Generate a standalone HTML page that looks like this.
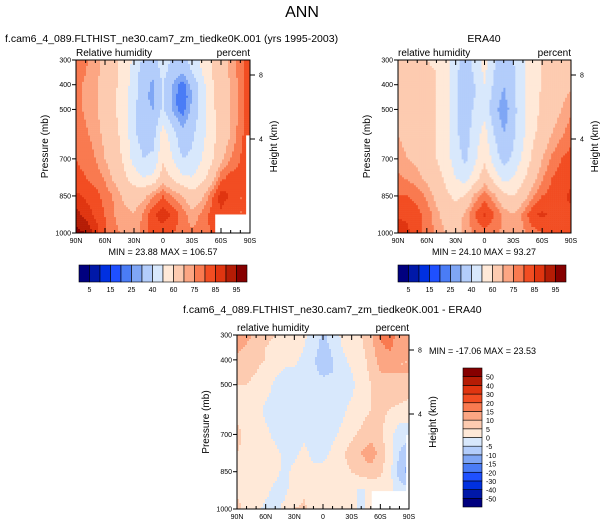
<!DOCTYPE html>
<html><head><meta charset="utf-8"><style>
body{margin:0;background:#fff;}
svg{display:block;font-family:"Liberation Sans",sans-serif;}
</style></head><body>
<svg id="s" width="604" height="529" viewBox="0 0 604 529">
<text x="302" y="17" font-size="16" text-anchor="middle">ANN</text>
</svg>
<script>
const lats=[90,80,70,60,50,40,30,20,10,0,-10,-20,-30,-40,-50,-60,-70,-80,-90];
const levels=[300,350,400,450,500,600,700,775,850,925,1000];
const modelRH=[
[78,76,72,68,62,56,48,38,36,46,38,36,44,52,60,66,72,78,84],
[78,75,72,67,62,55,46,34,32,44,34,30,40,50,60,66,72,78,84],
[77,74,72,66,62,55,45,33,28,40,30,22,32,45,58,65,70,76,85],
[77,74,71,66,61,54,44,32,28,40,28,20,30,45,58,65,70,77,85],
[77,74,71,66,61,54,42,32,30,42,28,22,32,45,57,65,70,77,85],
[78,76,73,68,63,56,42,35,36,55,45,32,38,46,56,64,70,78,85],
[80,78,75,70,65,58,46,40,42,58,50,40,42,50,58,68,75,80,85],
[82,80,78,74,68,62,55,50,52,65,58,52,50,56,65,78,82,82,82],
[86,84,82,78,74,68,66,68,75,80,75,70,64,68,78,88,84,80,80],
[92,88,84,80,75,72,70,76,84,88,84,78,72,76,82,84,80,80,80],
[97,95,88,80,76,74,72,78,82,82,80,78,76,78,80,80,80,80,80]];
const eraRH=[
[66,64,62,60,58,54,44,36,42,55,42,34,40,48,56,60,62,64,66],
[68,66,64,62,60,54,42,34,42,52,40,32,38,48,56,60,62,64,66],
[70,68,66,62,60,54,42,34,40,50,38,30,38,48,56,60,64,66,68],
[70,68,66,62,60,54,42,34,40,48,36,28,38,48,56,62,66,68,72],
[70,68,66,62,60,54,42,34,42,46,34,24,36,48,56,62,66,70,74],
[70,68,66,62,60,54,42,35,45,54,40,30,38,48,58,64,70,74,78],
[72,70,68,64,60,55,44,38,48,58,46,36,42,52,62,70,76,80,82],
[76,74,72,68,64,58,50,45,55,66,56,46,50,58,66,74,80,82,84],
[80,80,78,74,68,62,58,60,72,78,72,62,60,66,74,80,82,84,86],
[84,84,82,78,72,66,64,72,80,86,80,74,70,76,84,86,84,84,84],
[88,86,82,78,74,70,68,72,76,78,76,74,72,74,78,80,80,82,82]];
const diffRH=[
[15,12,8,6,5,4,3,1,-2,-6,-3,1,2,5,8,16,18,12,10],
[12,9,7,5,4,3,2,0,-3,-7,-4,0,2,4,8,14,16,12,10],
[8,7,6,5,3,2,1,-1,-4,-9,-5,-1,1,3,7,12,12,10,10],
[6,6,5,3,1,-1,-1,-2,-4,-6,-5,-2,0,2,6,10,10,10,10],
[5,5,4,2,-1,-2,-2,-2,-3,-3,-3,-2,-1,2,5,8,8,8,8],
[4,3,2,-1,-2,-2,-2,-2,-2,-2,-2,-1,1,3,5,6,5,4,3],
[6,4,3,1,-1,-2,-2,-1,-2,-2,-1,1,4,6,8,6,2,-3,-3],
[5,4,3,2,1,-1,-1,1,-1,-2,1,4,7,10,13,8,2,-5,-8],
[4,3,2,2,1,-1,1,2,1,2,4,4,5,7,8,6,2,-8,-12],
[4,3,2,1,-1,-1,2,4,2,1,2,3,1,-1,1,2,1,-2,-3],
[7,3,1,-1,-1,1,5,6,3,1,2,3,1,-1,1,1,1,1,0]];
const rhBounds=[5,10,15,20,25,30,40,50,60,70,75,80,85,90,95];
const rhLabels=[5,15,25,40,60,75,85,95];
const diffBounds=[-50,-40,-30,-20,-15,-10,-5,0,5,10,15,20,30,40,50];
const pTicks=[300,400,500,700,850,1000];
const latTicks=[90,60,30,0,-30,-60,-90];
const latTickLabels=["90N","60N","30N","0","30S","60S","90S"];
const palette=['#00007F','#0018A8','#0030E0','#1F50FF','#4A7CF6','#7FA6F5','#B3CDFB','#D8E8FC','#FFE9D8','#FDCBB0','#FCA683','#F97A50','#F24D22','#E03510','#B51C05','#860000'];

const S=document.getElementById('s');
const NS='http://www.w3.org/2000/svg';
function mk(tag,attrs,parent){const e=document.createElementNS(NS,tag);for(const k in attrs)e.setAttribute(k,attrs[k]);(parent||S).appendChild(e);return e;}
function txt(x,y,s,size,anchor,name,extra){const t=mk('text',Object.assign({x:x,y:y,'font-size':size,'text-anchor':anchor||'start'},extra||{}));t.textContent=s;return t;}
function colorOf(v,b){let i=0;while(i<b.length&&v>=b[i])i++;return palette[i];}
function sample(data,lat,p){
  let j=0;while(j<lats.length-2&&lat<lats[j+1])j++;
  let i=0;while(i<levels.length-2&&p>levels[i+1])i++;
  const tx=(lats[j]-lat)/(lats[j]-lats[j+1]);const ty=(p-levels[i])/(levels[i+1]-levels[i]);
  const a=data[i][j],b=data[i][j+1],c=data[i+1][j],d=data[i+1][j+1];
  return a*(1-tx)*(1-ty)+b*tx*(1-ty)+c*(1-tx)*ty+d*tx*ty;}

function panel(o){
  const X=lat=>o.x+(90-lat)/180*o.w;
  const Y=p=>o.y+(p-300)/700*o.h;
  const g=mk('g',{});
  const cs=2,n=Math.round(o.w/cs),m=Math.round(o.h/cs);
  const cw=o.w/n,ch=o.h/m;
  for(let r=0;r<m;r++){for(let c=0;c<n;c++){
    const lat=90-(c+0.5)/n*180,p=300+(r+0.5)/m*700;
    const v=sample(o.data,lat,p);
    const rc=mk('rect',{x:(o.x+c*cw).toFixed(2),y:(o.y+r*ch).toFixed(2),width:(cw+0.3).toFixed(2),height:(ch+0.3).toFixed(2),fill:colorOf(v,o.bounds)},g);
    
    
  }}
  (o.missing||[]).forEach(mm=>{const r=mk('rect',{x:X(mm[0]),y:Y(mm[2]),width:X(mm[1])-X(mm[0]),height:Y(1000)-Y(mm[2]),fill:'#fff'});});
  const fr=mk('rect',{x:o.x,y:o.y,width:o.w,height:o.h,fill:'none',stroke:'#000','stroke-width':1});
  for(let l=90;l>=-90;l-=10){const major=l%30===0;const L=major?5:3;
    mk('line',{x1:X(l),x2:X(l),y1:o.y+o.h,y2:o.y+o.h-L,stroke:'#000','stroke-width':1});
    mk('line',{x1:X(l),x2:X(l),y1:o.y,y2:o.y+L,stroke:'#000','stroke-width':1});}
  latTicks.forEach((l,k)=>txt(X(l),o.y+o.h+10,latTickLabels[k],7,'middle','x-tick-label'));
  pTicks.forEach(p=>{mk('line',{x1:o.x,x2:o.x-4,y1:Y(p),y2:Y(p),stroke:'#000'});txt(o.x-5,Y(p)+2.5,p,7,'end','y-tick-label');});
  [[8,15],[4,79]].forEach(h=>{mk('line',{x1:o.x+o.w,x2:o.x+o.w+5,y1:o.y+h[1],y2:o.y+h[1],stroke:'#000'});txt(o.x+o.w+9,o.y+h[1]+2.5,h[0],7,'start','height-tick-label');});
  txt(o.x-28,o.y+o.h/2,'Pressure (mb)',10,'middle','y-axis-title',{transform:`rotate(-90 ${o.x-28} ${o.y+o.h/2})`});
  txt(o.x+o.w+27,o.y+o.h/2,'Height (km)',10,'middle','right-axis-title',{transform:`rotate(-90 ${o.x+o.w+27} ${o.y+o.h/2})`});
  txt(o.x,o.y-4,o.left,10,'start','variable-label');
  txt(o.x+o.w,o.y-4,'percent',10,'end','units-label');
}
function hbar(x,y,w,h,labels,bounds,name){
  const g=mk('g',{});
  const bw=w/16;
  palette.forEach((c,i)=>{const r=mk('rect',{x:x+i*bw,y:y,width:bw,height:h,fill:c,stroke:'#000','stroke-width':0.6},g);});
  labels.forEach(l=>{const i=bounds.indexOf(l);txt(x+(i+1)*bw,y+h+10,l,7,'middle','colorbar-label');});
}
function vbar(x,y,w,h,bounds,name){
  const g=mk('g',{});
  const bh=h/16;
  palette.forEach((c,i)=>{const r=mk('rect',{x:x,y:y+(15-i)*bh,width:w,height:bh,fill:c,stroke:'#000','stroke-width':0.6},g);});
  bounds.forEach((b,i)=>txt(x+w+4,y+(15-i)*bh+3,b,7,'start','colorbar-label'));
}
txt(5,42,'f.cam6_4_089.FLTHIST_ne30.cam7_zm_tiedke0K.001 (yrs 1995-2003)',10.5,'start','model-panel-title');
txt(484,42,'ERA40',10.5,'middle','era-panel-title');
txt(183,313,'f.cam6_4_089.FLTHIST_ne30.cam7_zm_tiedke0K.001 - ERA40',10.5,'start','diff-panel-title');
panel({x:76,y:60,w:174,h:173,data:modelRH,bounds:rhBounds,name:'model-panel',left:'Relative humidity',missing:[[-54,-90,925],[-86,-90,605]]});
panel({x:398,y:60,w:173,h:173,data:eraRH,bounds:rhBounds,name:'era-panel',left:'relative humidity'});
panel({x:237,y:335,w:172,h:174,data:diffRH,bounds:diffBounds,name:'diff-panel',left:'relative humidity',missing:[[-51,-90,928],[-87,-90,702]]});
txt(163,255,'MIN =  23.88  MAX = 106.57',9,'middle','model-minmax');
txt(484,255,'MIN =  24.10  MAX =  93.27',9,'middle','era-minmax');
txt(429,354,'MIN = -17.06  MAX =  23.53',9,'start','diff-minmax');
hbar(79,265,168,17,rhLabels,rhBounds,'model-colorbar');
hbar(398,265,168,17,rhLabels,rhBounds,'era-colorbar');
vbar(463,368,19,139,diffBounds,'diff-colorbar');
</script>
</body></html>
